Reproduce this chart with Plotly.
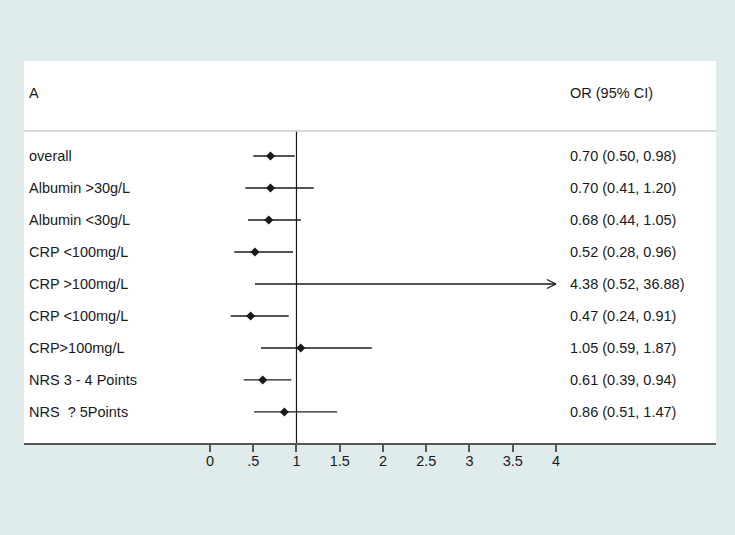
import plotly.graph_objects as go

labels = ["overall", "Albumin >30g/L", "Albumin <30g/L", "CRP <100mg/L", "CRP >100mg/L",
          "CRP <100mg/L", "CRP>100mg/L", "NRS 3 - 4 Points", "NRS  ? 5Points"]
estimate = [0.70, 0.70, 0.68, 0.52, 4.38, 0.47, 1.05, 0.61, 0.86]
lower = [0.50, 0.41, 0.44, 0.28, 0.52, 0.24, 0.59, 0.39, 0.51]
upper = [0.98, 1.20, 1.05, 0.96, 36.88, 0.91, 1.87, 0.94, 1.47]
tick_vals = [0, 0.5, 1, 1.5, 2, 2.5, 3, 3.5, 4]
tick_text = ["0", ".5", "1", "1.5", "2", "2.5", "3", "3.5", "4"]
header_left = "A"
header_right = "OR (95% CI)"

AXMAX = 4.0
BG = "#e0ecec"
FONT = dict(family="Liberation Sans, Arial, sans-serif", size=14.5, color="#1a1a1a")

fig = go.Figure()
rows = list(range(len(labels)))

# CI lines
for i in rows:
    hi = min(upper[i], AXMAX)
    fig.add_trace(go.Scatter(x=[lower[i], hi], y=[i, i], mode="lines",
                             line=dict(color="#1a1a1a", width=1.3), hoverinfo="skip", showlegend=False))
    if upper[i] > AXMAX:
        dx, dy = 0.105, 0.14
        fig.add_trace(go.Scatter(x=[hi - dx, hi, hi - dx], y=[i - dy, i, i + dy], mode="lines",
                                 line=dict(color="#1a1a1a", width=1.3), hoverinfo="skip", showlegend=False))

# point estimates (only within axis range)
px = [e if e <= AXMAX else None for e in estimate]
fig.add_trace(go.Scatter(x=px, y=rows, mode="markers",
                         marker=dict(symbol="diamond", size=7, color="#1a1a1a"),
                         showlegend=False))

# reference line at 1
fig.add_shape(type="line", x0=1, x1=1, y0=-0.78, y1=8.97, xref="x", yref="y",
              line=dict(color="#1a1a1a", width=1.2))
# header separator
fig.add_shape(type="line", x0=0, x1=1, y0=-0.78, y1=-0.78, xref="paper", yref="y",
              line=dict(color="#cccccc", width=1.5))

# left labels and right OR texts
for i in rows:
    fig.add_annotation(x=0, xref="paper", xshift=3, y=i, yref="y", text=labels[i],
                       showarrow=False, xanchor="left", font=FONT)
    fig.add_annotation(x=AXMAX, xref="x", xshift=12, y=i, yref="y",
                       text=f"{estimate[i]:.2f} ({lower[i]:.2f}, {upper[i]:.2f})",
                       showarrow=False, xanchor="left", font=FONT)

fig.add_annotation(x=0, xref="paper", xshift=3, y=-1.97, yref="y", text=header_left,
                   showarrow=False, xanchor="left", font=FONT)
fig.add_annotation(x=AXMAX, xref="x", xshift=12, y=-1.97, yref="y", text=header_right,
                   showarrow=False, xanchor="left", font=FONT)

fig.update_xaxes(range=[-2.150, 5.850], tickvals=tick_vals, ticktext=tick_text,
                 showgrid=False, zeroline=False, showline=True, linecolor="#555555", linewidth=1.5,
                 ticks="outside", ticklen=7, tickcolor="#555555", tickwidth=1.5,
                 ticklabelstandoff=-3, tickfont=FONT, fixedrange=True)
fig.update_yaxes(range=[8.97, -2.97], showgrid=False, zeroline=False, showticklabels=False,
                 showline=False, fixedrange=True)

fig.update_layout(width=735, height=535, margin=dict(l=24, r=19, t=61, b=92),
                  paper_bgcolor=BG, plot_bgcolor="#ffffff", showlegend=False)

fig.write_html("out.html", config={"displayModeBar": False},
               post_script=f"document.body.style.margin='0';document.body.style.background='{BG}';")
